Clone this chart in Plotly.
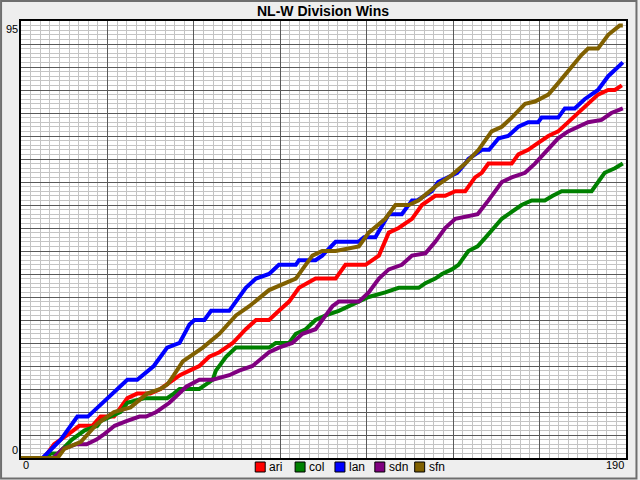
import plotly.graph_objects as go

# ---- data ----
teams = ["ari", "col", "lan", "sdn", "sfn"]
colors = ["#FF0000", "#008000", "#0000FF", "#800080", "#806000"]

ari_days = [0, 7, 8.3, 10.4, 14.6, 18.3, 22.4, 25, 29.2, 33.4, 36.5, 40.6, 43.8, 48, 49.9, 52.9, 56, 59.1, 62.3, 66.5, 70.6, 73.8, 77.9, 81, 84.2, 87.3, 92.5, 98.8, 101.9, 108.2, 112.4, 115.5, 118.6, 122.8, 125.9, 130.1, 133.2, 136.4, 139.5, 142.6, 144.7, 146.8, 154.1, 156.2, 159.3, 161.4, 165.6, 168.7, 171.8, 175, 178.1, 181.2, 184.4, 186.5, 188.7]
ari_wins = [0, 0, 1, 3, 5, 7, 7, 9, 9, 13, 14, 14, 15, 17, 18, 19, 20, 22, 23, 25, 28, 30, 30, 32, 34, 37, 39, 39, 42, 42, 44, 49, 50, 52, 55, 57, 57, 58, 58, 61, 62, 64, 64, 66, 67, 68, 70, 71, 73, 75, 77, 79, 80, 80, 81]

col_days = [0, 8.5, 9.1, 11.7, 16, 20, 24, 25, 31.3, 33.4, 38.6, 45.9, 48, 49.8, 56, 58, 60.2, 61.2, 64.4, 67.5, 77.9, 80, 84.2, 86.3, 89.4, 92.5, 95.7, 99.8, 106.1, 109.2, 114.4, 118.6, 124.9, 127, 130.1, 132.2, 135.3, 137.4, 140.5, 143.4, 146, 148.5, 151, 153.1, 157.2, 160.4, 164.5, 167, 169.8, 179.2, 183.3, 186.5, 189]
col_wins = [0, 0, 1, 1, 4, 6, 7, 8, 10, 12, 13, 13, 14, 15, 15, 16, 17, 19, 22, 24, 24, 25, 25, 27, 28, 30, 31, 32, 34, 35, 36, 37, 37, 38, 39, 40, 41, 42, 45, 46, 48, 50, 52, 53, 55, 56, 56, 57, 58, 58, 62, 63, 64]

lan_days = [0, 6.8, 12.5, 17.7, 21, 27, 33.4, 36.5, 41.7, 45.9, 49.8, 52.9, 54.5, 57.6, 59.7, 65.4, 70.6, 73.8, 77.9, 81, 86.3, 87.3, 92.5, 94.6, 98.8, 106, 107.7, 111.3, 115.5, 119.6, 122.8, 124.4, 129, 131, 134, 137, 139.5, 140.5, 144.7, 147, 150, 153, 156.2, 159.3, 162.4, 163.5, 168.7, 170.8, 173.9, 177, 181.2, 184.4, 187.5, 189]
lan_wins = [0, 0, 4, 9, 9, 13, 17, 17, 20, 24, 25, 29, 30, 30, 32, 32, 37, 39, 40, 42, 42, 43, 43, 44, 47, 47, 48, 48, 53, 53, 56, 56, 58, 60, 61, 62, 64, 65, 67, 67, 69.5, 70, 72, 73, 73, 74, 74, 76, 76, 78, 80, 83, 85, 86]

sdn_days = [0, 10.1, 13.2, 17.4, 20.6, 23.7, 25.8, 29.4, 33.1, 37.2, 39.3, 42.5, 46.6, 51.9, 56, 60.2, 65.4, 68.5, 72.7, 77.9, 81, 85.2, 88.4, 92.5, 95.7, 97.8, 99.8, 106.1, 109.2, 112.4, 115.5, 119.6, 122.8, 127, 130.1, 133.2, 136.4, 139.5, 143.4, 146.8, 151, 154.1, 158.3, 161.4, 165.6, 168.7, 171.8, 175, 178.1, 182.3, 185.4, 189]
sdn_wins = [0, 0, 2, 3, 3, 4, 5, 7, 8, 9, 9, 10, 12, 15.5, 17, 17, 18, 19, 20, 23, 24, 25, 27, 28, 31, 33, 34, 34, 36, 39, 41, 42, 44, 44.5, 47, 50, 52, 52.5, 53, 56, 60, 61, 62, 64, 67, 69.5, 71, 72, 73, 73.5, 75, 76]

sfn_days = [0, 11.5, 13.6, 18.8, 24, 29.2, 34.4, 39.6, 43.8, 46, 48, 50.8, 57.1, 62.3, 67.5, 71.7, 77.9, 83.2, 86.3, 89.4, 91.5, 94.6, 98.8, 106.1, 109.2, 114.4, 117.6, 121.8, 124.9, 130.1, 135.3, 139.5, 143.7, 147.8, 151, 154.1, 158.3, 161.4, 165.6, 168.7, 172.9, 176, 178.1, 181.2, 184.4, 188, 189]
sfn_wins = [0, 0, 2, 3.5, 7.5, 10, 11, 14, 15, 16, 18, 21, 24, 27, 31, 33, 36.5, 38, 39, 42, 44, 45, 45, 46, 49, 52, 55, 55, 56, 59, 61.5, 64, 67, 71, 72, 74, 77, 77.5, 79, 81.5, 85, 87.6, 89, 89, 92, 94, 94]

series_days = [ari_days, col_days, lan_days, sdn_days, sfn_days]
series_wins = [ari_wins, col_wins, lan_wins, sdn_wins, sfn_wins]

x_max = 190
y_max = 95
title = "NL-W Division Wins"

# ---- layout geometry (pixels) ----
W, H = 640, 480
L, R, T, B = 21, 12, 21, 22
PW, PH = W - L - R, H - T - B


def px(xp):
    return (xp - L) / PW


def py(yp):
    return (H - B - yp) / PH


FONT = "Liberation Sans, Arial, sans-serif"

fig = go.Figure()
for name, col, d, w in zip(teams, colors, series_days, series_wins):
    fig.add_trace(go.Scatter(x=d, y=w, mode="lines", name=name,
                             line=dict(color=col, width=4), showlegend=False))

shapes = []
annotations = []

# outer frame
shapes.append(dict(type="rect", xref="paper", yref="paper",
                   x0=px(1), x1=px(638.5), y0=py(478.5), y1=py(1),
                   line=dict(color="#6E6E6E", width=2), layer="below"))

# legend (boxes + labels)
for i, (name, col) in enumerate(zip(teams, colors)):
    x0 = 256 + 40 * i
    shapes.append(dict(type="rect", xref="paper", yref="paper",
                       x0=px(x0), x1=px(x0 + 10), y0=py(472), y1=py(462),
                       fillcolor=col, line=dict(color="black", width=1)))
    annotations.append(dict(text=name, xref="paper", yref="paper",
                            x=px(x0 + 12), y=py(467), xanchor="left", yanchor="middle",
                            showarrow=False, font=dict(size=12, color="black", family=FONT)))

# axis end labels
annotations += [
    dict(text=str(y_max), xref="paper", yref="y", x=px(20), y=y_max, xanchor="right",
         yanchor="top", showarrow=False, font=dict(size=11, color="black", family=FONT)),
    dict(text="0", xref="paper", yref="y", x=px(20), y=0, xanchor="right",
         yanchor="bottom", showarrow=False, font=dict(size=11, color="black", family=FONT)),
    dict(text="0", xref="x", yref="paper", x=0, y=py(465), xanchor="left",
         yanchor="middle", showarrow=False, font=dict(size=11, color="black", family=FONT)),
    dict(text=str(x_max), xref="x", yref="paper", x=x_max, y=py(465), xanchor="right",
         yanchor="middle", showarrow=False, font=dict(size=11, color="black", family=FONT)),
    dict(text="<b>" + title + "</b>", xref="paper", yref="paper", x=px(323.5), y=py(11.5),
         xanchor="center", yanchor="middle", showarrow=False,
         font=dict(size=14, color="black", family=FONT)),
]

fig.update_layout(
    width=W, height=H,
    margin=dict(l=L, r=R, t=T, b=B, pad=0),
    paper_bgcolor="#EEEEEE", plot_bgcolor="white",
    shapes=shapes, annotations=annotations,
    xaxis=dict(range=[0, x_max], showticklabels=False, ticks="", zeroline=False,
               showgrid=True, tick0=0, dtick=x_max / 7, gridcolor="#5A5A5A", gridwidth=1,
               griddash="solid",
               minor=dict(dtick=x_max / 63, tick0=0, showgrid=True, gridcolor="#C4C4C4",
                          gridwidth=1, griddash="solid"),
               showline=True, mirror=True, linecolor="black", linewidth=2),
    yaxis=dict(range=[0, y_max], showticklabels=False, ticks="", zeroline=False,
               showgrid=True, tick0=0, dtick=5, gridcolor="#5A5A5A", gridwidth=1,
               griddash="solid",
               minor=dict(dtick=1, tick0=0, showgrid=True, gridcolor="#C4C4C4",
                          gridwidth=1, griddash="solid"),
               showline=True, mirror=True, linecolor="black", linewidth=2),
)

fig.write_html("out.html", config={"displayModeBar": False},
               post_script="document.body.style.margin='0';")
